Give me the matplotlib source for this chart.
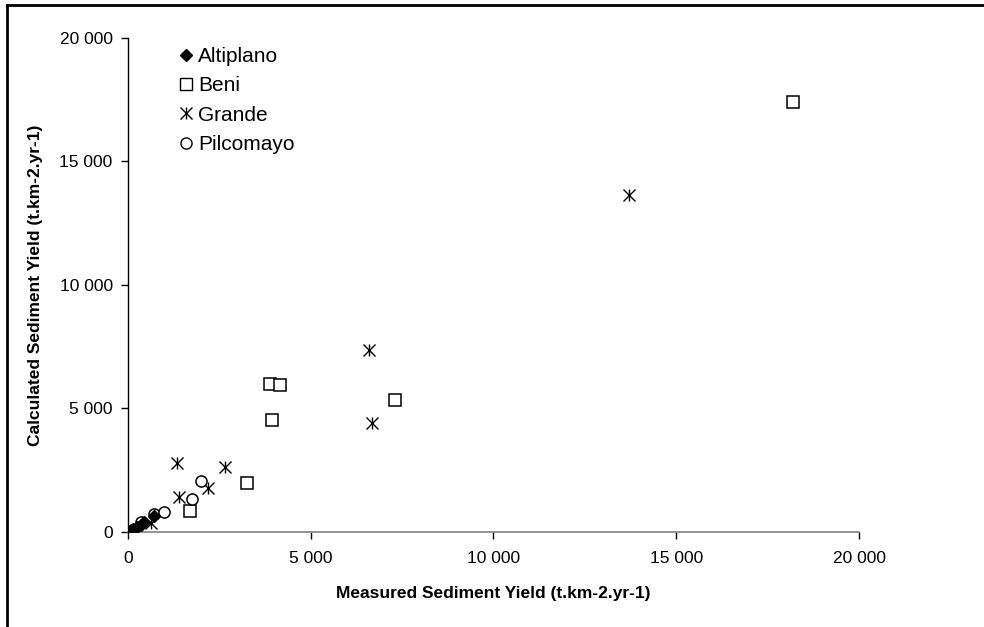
import matplotlib
matplotlib.use('Agg')
import matplotlib.pyplot as plt
from matplotlib.ticker import FuncFormatter, MultipleLocator
from matplotlib.lines import Line2D
from matplotlib.legend_handler import HandlerTuple

plt.rcParams['font.family'] = ['Liberation Sans', 'DejaVu Sans']

# measured vs calculated sediment yield (t.km-2.yr-1)
alti_x = [20, 50, 90, 150, 250, 350, 450, 700]
alti_y = [10, 40, 80, 120, 200, 300, 400, 650]

beni_x = [18200, 3900, 4150, 3950, 7300, 3250, 1700]
beni_y = [17400, 6000, 5970, 4550, 5330, 1980, 870]

grande_x = [13700, 6600, 6680, 1340, 2650, 2180, 1400, 620]
grande_y = [13650, 7350, 4400, 2800, 2650, 1800, 1420, 360]

pilco_x = [350, 700, 980, 1750, 2000]
pilco_y = [400, 730, 820, 1340, 2050]

fig = plt.figure(figsize=(9.84, 6.27), dpi=100)
ax = fig.add_axes([0.130, 0.1515, 0.743, 0.788])

ax.plot(alti_x, alti_y, 'D', color='black', markersize=6, ls='none', zorder=4)
ax.plot(beni_x, beni_y, 's', mfc='white', mec='black', mew=1.1, markersize=8, ls='none', zorder=3)
ax.plot(grande_x, grande_y, 'x', color='black', mew=1.0, markersize=8, ls='none', zorder=3)
ax.plot(grande_x, grande_y, '|', color='black', mew=1.0, markersize=8, ls='none', zorder=3)
ax.plot(pilco_x, pilco_y, 'o', mfc='white', mec='black', mew=1.1, markersize=8, ls='none', zorder=3)

ax.set_xlim(0, 20000)
ax.set_ylim(0, 20000)
ax.xaxis.set_major_locator(MultipleLocator(5000))
ax.yaxis.set_major_locator(MultipleLocator(5000))
fmt = FuncFormatter(lambda v, p: f'{int(v):,}'.replace(',', ' '))
ax.xaxis.set_major_formatter(fmt)
ax.yaxis.set_major_formatter(fmt)

for s in ['top', 'right']:
    ax.spines[s].set_visible(False)
ax.spines['left'].set_color('black')
ax.spines['bottom'].set_color('#808080')
ax.spines['left'].set_linewidth(1.0)
ax.spines['bottom'].set_linewidth(1.2)
ax.tick_params(axis='both', direction='out', length=5, width=1, labelsize=12.5, pad=6)
ax.tick_params(axis='x', color='black', pad=9)

ax.set_xlabel('Measured Sediment Yield (t.km-2.yr-1)', fontsize=12.5, fontweight='bold', labelpad=14)
ax.set_ylabel('Calculated Sediment Yield (t.km-2.yr-1)', fontsize=12.5, fontweight='bold', labelpad=12)

h_alti = Line2D([], [], marker='D', color='black', ls='none', markersize=6)
h_beni = Line2D([], [], marker='s', mfc='white', mec='black', ls='none', markersize=8)
h_gx = Line2D([], [], marker='x', color='black', ls='none', markersize=8)
h_gv = Line2D([], [], marker='|', color='black', ls='none', markersize=8)
h_pil = Line2D([], [], marker='o', mfc='white', mec='black', ls='none', markersize=8)
ax.legend([h_alti, h_beni, (h_gx, h_gv), h_pil], ['Altiplano', 'Beni', 'Grande', 'Pilcomayo'],
          handler_map={tuple: HandlerTuple(ndivide=1, pad=0)},
          loc='upper left', bbox_to_anchor=(0.045, 1.02), frameon=False, fontsize=15,
          handlelength=0.6, handletextpad=0.3, labelspacing=0.5)

# outer frame (top and left edges)
fig.add_artist(Line2D([7/984, 1], [1 - 5/627, 1 - 5/627], color='black', lw=2, transform=fig.transFigure))
fig.add_artist(Line2D([7/984, 7/984], [0, 1 - 5/627], color='black', lw=2, transform=fig.transFigure))

fig.savefig('out.png', dpi=100)
